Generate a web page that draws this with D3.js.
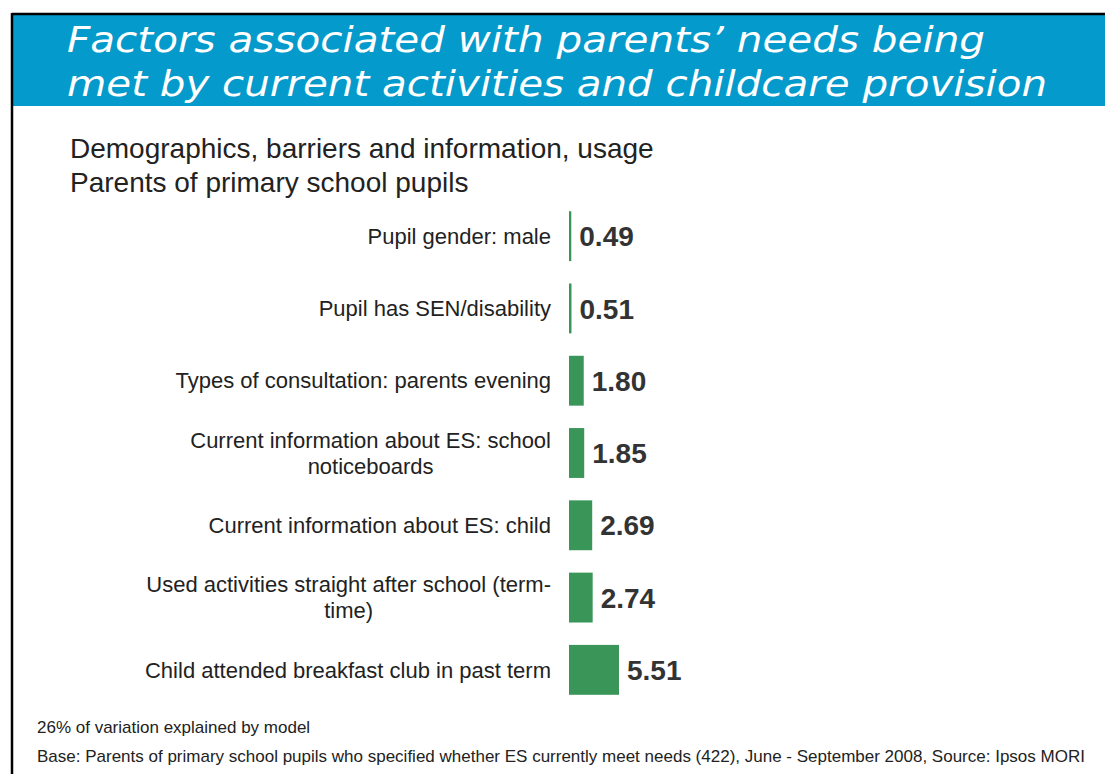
<!DOCTYPE html>
<html>
<head>
<meta charset="utf-8">
<script src="https://cdn.jsdelivr.net/npm/d3@7"></script>
<style>
  html, body { margin: 0; padding: 0; background: #fff; }
  svg { display: block; }
</style>
</head>
<body>
<svg id="chart" width="1105" height="774"></svg>
<script>
const titleLines = ["Factors associated with parents\u2019 needs being", "met by current activities and childcare provision"];
const subtitleLines = ["Demographics, barriers and information, usage", "Parents of primary school pupils"];
const categories = [
  ["Pupil gender: male"],
  ["Pupil has SEN/disability"],
  ["Types of consultation: parents evening"],
  ["Current information about ES: school", "noticeboards"],
  ["Current information about ES: child"],
  ["Used activities straight after school (term-", "time)"],
  ["Child attended breakfast club in past term"]
];
const values = [0.49, 0.51, 1.80, 1.85, 2.69, 2.74, 5.51];
const valueLabels = ["0.49", "0.51", "1.80", "1.85", "2.69", "2.74", "5.51"];
const footnotes = ["26% of variation explained by model",
  "Base: Parents of primary school pupils who specified whether ES currently meet needs (422), June - September 2008, Source: Ipsos MORI"];

const svg = d3.select("#chart");
const sans = "'Liberation Sans', Arial, sans-serif";

// Slide frame and header band
svg.append("rect").attr("x", 13).attr("y", 15).attr("width", 1092).attr("height", 91).attr("fill", "#049ACB");
svg.append("line").attr("x1", 12).attr("x2", 1105).attr("y1", 14).attr("y2", 14).attr("stroke", "#000").attr("stroke-width", 2.5);
svg.append("line").attr("x1", 12).attr("x2", 12).attr("y1", 13).attr("y2", 774).attr("stroke", "#000").attr("stroke-width", 2.5);

const titleFit = [918, 980];
titleLines.forEach((t, i) => {
  svg.append("text")
    .attr("x", 67).attr("y", 52 + i * 44)
    .attr("font-family", "'DejaVu Sans', Verdana, sans-serif")
    .attr("font-style", "italic")
    .attr("font-size", 35)
    .attr("fill", "#fff")
    .attr("textLength", titleFit[i])
    .attr("lengthAdjust", "spacingAndGlyphs")
    .text(t);
});

subtitleLines.forEach((t, i) => {
  svg.append("text")
    .attr("x", 70).attr("y", 158 + i * 34)
    .attr("font-family", sans)
    .attr("font-size", 28)
    .attr("fill", "#222")
    .text(t);
});

// Scales
const y = d3.scaleBand()
  .domain(d3.range(categories.length))
  .range([200, 706])
  .paddingInner(0.31)
  .paddingOuter(0.155);

const x = d3.scaleLinear().domain([0.25, 5.51]).range([569, 619]);

const g = svg.append("g");

g.selectAll("rect.bar")
  .data(values)
  .join("rect")
  .attr("class", "bar")
  .attr("x", x(0.25))
  .attr("y", (d, i) => y(i))
  .attr("width", d => x(d) - x(0.25))
  .attr("height", y.bandwidth())
  .attr("fill", "#3A9658");

g.selectAll("text.val")
  .data(values)
  .join("text")
  .attr("class", "val")
  .attr("x", d => x(d) + 8)
  .attr("y", (d, i) => y(i) + y.bandwidth() / 2)
  .attr("dy", "0.36em")
  .attr("font-family", sans)
  .attr("font-weight", "bold")
  .attr("font-size", 28)
  .attr("fill", "#333")
  .text((d, i) => valueLabels[i]);

// Category labels: right-aligned block, lines centered within block
const labelRight = 551;
const lineH = 26;
categories.forEach((lines, i) => {
  const cy = y(i) + y.bandwidth() / 2;
  const texts = lines.map((t, j) => g.append("text")
    .attr("font-family", sans)
    .attr("font-size", 22)
    .attr("fill", "#222")
    .attr("text-anchor", "middle")
    .attr("dy", "0.35em")
    .attr("y", cy + (j - (lines.length - 1) / 2) * lineH)
    .text(t));
  const maxW = d3.max(texts, t => t.node().getComputedTextLength());
  texts.forEach(t => t.attr("x", labelRight - maxW / 2));
});

footnotes.forEach((t, i) => {
  svg.append("text")
    .attr("x", 37).attr("y", 733 + i * 29)
    .attr("font-family", sans)
    .attr("font-size", 17)
    .attr("fill", "#222")
    .text(t);
});
</script>
</body>
</html>
